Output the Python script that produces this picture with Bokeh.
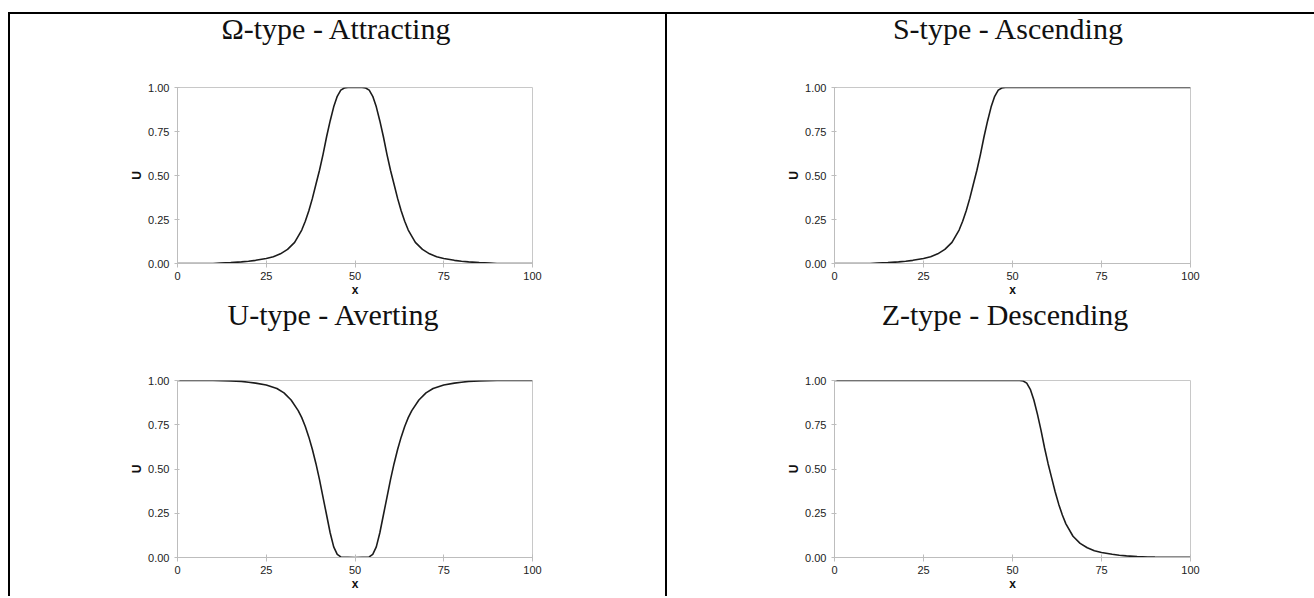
from bokeh.plotting import figure
from bokeh.layouts import column, row
from bokeh.models import Div, Spacer, PrintfTickFormatter, Title
from bokeh.embed import file_html
from bokeh.resources import INLINE

# ---- data ----
titles = ["\u03a9-type - Attracting", "S-type  - Ascending", "U-type  - Averting", "Z-type  -  Descending"]
x_ticks = [0, 25, 50, 75, 100]
u_ticks = [0, 0.25, 0.5, 0.75, 1.0]

omega_x = [0, 5, 10, 12, 15, 18, 20, 22, 25, 27, 29, 31, 33, 35, 36, 37, 38, 39, 40, 41, 42, 43, 44, 45, 46, 47, 48,
           50, 52, 53, 54, 55, 56, 57, 58, 59, 60, 61, 62, 63, 64, 65, 67, 69, 71, 73, 75, 78, 80, 82, 85, 88, 90, 95, 100]
omega_u = [0, 0, 0, 0.002, 0.005, 0.009, 0.013, 0.018, 0.028, 0.038, 0.055, 0.08, 0.12, 0.19, 0.24, 0.3, 0.37, 0.45,
           0.53, 0.62, 0.72, 0.81, 0.89, 0.95, 0.985, 0.997, 1.0,
           1.0, 1.0, 0.997, 0.985, 0.95, 0.89, 0.81, 0.72, 0.62, 0.53, 0.45, 0.37, 0.3, 0.24, 0.19, 0.12, 0.08, 0.055,
           0.038, 0.028, 0.018, 0.013, 0.009, 0.005, 0.002, 0, 0, 0]

s_x = [0, 5, 10, 12, 15, 18, 20, 22, 25, 27, 29, 31, 33, 35, 36, 37, 38, 39, 40, 41, 42, 43, 44, 45, 46, 47, 48,
       50, 60, 70, 80, 90, 100]
s_u = [0, 0, 0, 0.002, 0.005, 0.009, 0.013, 0.018, 0.028, 0.038, 0.055, 0.08, 0.12, 0.19, 0.24, 0.3, 0.37, 0.45,
       0.53, 0.62, 0.72, 0.81, 0.89, 0.95, 0.985, 0.997, 1.0, 1.0, 1.0, 1.0, 1.0, 1.0, 1.0]

u_x = [0, 5, 10, 15, 18, 20, 22, 25, 28, 30, 32, 34, 35, 36, 37, 38, 39, 40, 41, 42, 43, 44, 45, 46, 50,
       54, 55, 56, 57, 58, 59, 60, 61, 62, 63, 64, 65, 66, 68, 70, 72, 75, 78, 80, 82, 85, 90, 95, 100]
u_u = [1, 1, 1, 0.998, 0.995, 0.99, 0.985, 0.975, 0.955, 0.93, 0.89, 0.83, 0.79, 0.74, 0.68, 0.61, 0.53, 0.44, 0.34,
       0.24, 0.14, 0.06, 0.018, 0.003, 0,
       0.003, 0.018, 0.06, 0.14, 0.24, 0.34, 0.44, 0.53, 0.61, 0.68, 0.74, 0.79, 0.83, 0.89, 0.93, 0.955, 0.975, 0.985,
       0.99, 0.995, 0.998, 1, 1, 1]

z_x = [0, 10, 20, 30, 40, 50, 52, 53, 54, 55, 56, 57, 58, 59, 60, 61, 62, 63, 64, 65, 67, 69, 71, 73, 75, 78, 80,
       82, 85, 88, 90, 95, 100]
z_u = [1, 1, 1, 1, 1, 1, 1.0, 0.997, 0.985, 0.95, 0.89, 0.81, 0.72, 0.62, 0.53, 0.45, 0.37, 0.3, 0.24, 0.19, 0.12,
       0.08, 0.055, 0.038, 0.028, 0.018, 0.013, 0.009, 0.005, 0.003, 0.002, 0.001, 0.001]


def panel(title, xs, us, width, height, left, right, bottom, gap, align, offset, margin):
    p = figure(width=width, height=height, x_range=(0, 100), y_range=(0, 1),
               output_backend="svg", toolbar_location=None, title=None,
               min_border_left=left, min_border_right=right, min_border_top=0,
               min_border_bottom=bottom, background_fill_color="white",
               border_fill_color=None, margin=margin)
    # inner (spacer) title first, the visible title is stacked above it
    p.add_layout(Title(text=" ", text_font_size="10px", standoff=gap), "above")
    p.add_layout(Title(text=title, align=align, offset=offset, standoff=0,
                       text_font="Liberation Serif", text_font_size="30px",
                       text_font_style="normal", text_color="#111111"), "above")
    p.xgrid.visible = False
    p.ygrid.visible = False
    p.outline_line_color = "#c8c8c8"
    p.outline_line_width = 1
    for ax in (p.xaxis, p.yaxis):
        ax.axis_line_color = "#bdbdbd"
        ax.major_tick_line_color = "#bdbdbd"
        ax.minor_tick_line_color = None
        ax.major_label_text_font = "Liberation Sans"
        ax.major_label_text_font_size = "11px"
        ax.major_label_text_color = "#222222"
        ax.axis_label_text_font = "Liberation Sans"
        ax.axis_label_text_font_size = "12px"
        ax.axis_label_text_font_style = "bold"
        ax.axis_label_text_color = "#111111"
    p.xaxis.ticker = x_ticks
    p.yaxis.ticker = u_ticks
    p.yaxis.formatter = PrintfTickFormatter(format="%.2f")
    p.xaxis.major_tick_in = 3
    p.xaxis.major_tick_out = 4
    p.yaxis.major_tick_in = 2
    p.yaxis.major_tick_out = 3
    p.xaxis.major_label_standoff = 4
    p.yaxis.major_label_standoff = 5
    p.xaxis.axis_label = "x"
    p.yaxis.axis_label = "U"
    p.xaxis.axis_label_standoff = 0
    p.yaxis.axis_label_standoff = 1
    p.line(xs, us, line_color="#1c1c1c", line_width=1.6)
    return p


p1 = panel(titles[0], omega_x, omega_u, 655, 291, 167, 133, 37, 30, "left", 44, 0)
p3 = panel(titles[2], u_x, u_u, 655, 298, 167, 133, 36, 37, "left", 50, (-5, 0, 0, 0))
p2 = panel(titles[1], s_x, s_u, 645, 291, 167, 122, 37, 30, "center", 0, 0)
p4 = panel(titles[3], z_x, z_u, 645, 298, 167, 122, 36, 37, "center", 0, (-5, 0, 0, 0))

black = {"background-color": "black"}
vline1 = Div(text="", width=2, height=582, margin=(5, 0, 0, 0), styles=black)
vline2 = Div(text="", width=2, height=582, margin=(5, 0, 0, 0), styles=black)
hline = Div(text="", width=1306, height=2, margin=0, styles=black)

layout = column(
    Spacer(width=10, height=12),
    row(Spacer(width=8, height=2), hline),
    row(Spacer(width=8, height=10), vline1, column(p1, p3), vline2, column(p2, p4), margin=(-5, 0, 0, 0)),
)

open("out.html", "w").write(file_html(layout, INLINE))
